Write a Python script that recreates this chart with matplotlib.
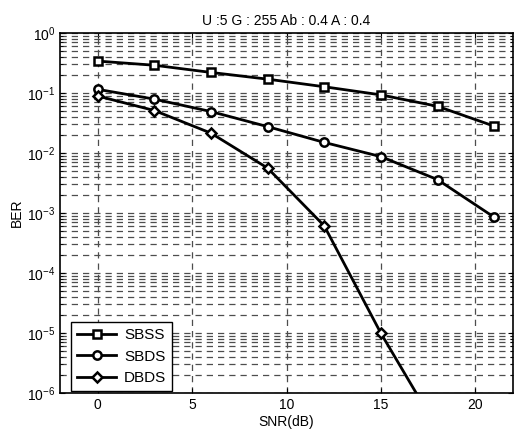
import matplotlib
matplotlib.use("Agg")
import matplotlib.pyplot as plt
from matplotlib.ticker import LogLocator, FixedLocator, NullFormatter

plt.rcParams['font.family'] = ['Liberation Sans', 'DejaVu Sans']

snr = [0, 3, 6, 9, 12, 15, 18, 21]
sbss = [0.34, 0.29, 0.22, 0.17, 0.127, 0.093, 0.060, 0.028]
sbds = [0.115, 0.079, 0.049, 0.0275, 0.015, 0.0087, 0.0036, 0.00085]
snr_dbds = [0, 3, 6, 9, 12, 15, 18]
dbds = [0.089, 0.051, 0.0214, 0.0056, 0.00061, 9.9e-6, 2.5e-7]
xticks = [0, 5, 10, 15, 20]
title = "U :5 G : 255 Ab : 0.4 A : 0.4"

fig = plt.figure(figsize=(5.29, 4.34), dpi=100)
ax = fig.add_axes([0.1134, 0.0945, 0.8564, 0.8295])

mk = dict(color='black', lw=2.0, mfc='white', mec='black', mew=1.8, ms=6)
ax.plot(snr, sbss, marker='s', label='SBSS', **mk)
ax.plot(snr, sbds, marker='o', label='SBDS', **mk)
ax.plot(snr_dbds, dbds, marker='D', label='DBDS', **dict(mk, ms=5))

ax.set_yscale('log')
ax.set_xlim(-2, 22)
ax.set_ylim(1e-6, 1)
ax.set_xticks(xticks)
ax.yaxis.set_major_locator(FixedLocator([10.0**k for k in range(-6, 1)]))
ax.yaxis.set_minor_locator(LogLocator(base=10, subs=range(2, 10), numticks=20))
ax.yaxis.set_minor_formatter(NullFormatter())

gs = dict(color='0.3', linestyle=(0, (5, 4)), linewidth=0.9)
ax.grid(True, which='major', axis='both', **gs)
ax.grid(True, which='minor', axis='y', **gs)

ax.tick_params(direction='in', which='both', top=True, right=True, labelsize=10)
ax.tick_params(which='minor', length=2)
for s in ax.spines.values():
    s.set_linewidth(1.2)

ax.set_xlabel('SNR(dB)', fontsize=10, labelpad=2)
ax.set_ylabel('BER', fontsize=10, labelpad=2)
ax.set_title(title, fontsize=10, pad=6)

leg = ax.legend(loc='lower left', bbox_to_anchor=(0.02, 0.0), fancybox=False,
                edgecolor='black', framealpha=1, fontsize=11, borderaxespad=0.1,
                handlelength=2.6, handletextpad=0.5, labelspacing=0.5, borderpad=0.4)
leg.get_frame().set_linewidth(1.0)

fig.savefig('out.png', dpi=100)
